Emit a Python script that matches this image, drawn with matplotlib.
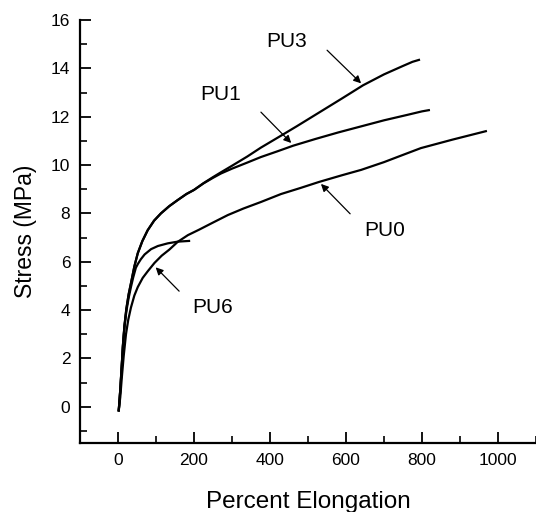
import matplotlib
matplotlib.use("Agg")
import matplotlib.pyplot as plt
from matplotlib.ticker import MultipleLocator

plt.rcParams['font.family'] = ['Liberation Sans', 'DejaVu Sans']

# Percent elongation (x) and stress in MPa (y)
pu3_x = [2, 6, 10, 13, 17, 22, 28, 34, 43, 52, 64, 78, 95, 113, 135, 157, 180, 200, 225, 250, 271,
         300, 340, 376, 420, 470, 529, 590, 645, 700, 750, 775, 792]
pu3_y = [-0.15, 0.7, 1.75, 2.55, 3.35, 4.05, 4.65, 5.1, 5.8, 6.35, 6.85, 7.3, 7.7, 8.0, 8.3, 8.55, 8.8,
         8.97, 9.25, 9.5, 9.7, 9.97, 10.35, 10.72, 11.13, 11.6, 12.17, 12.76, 13.3, 13.75, 14.1, 14.27, 14.35]

pu1_x = [2, 6, 10, 13, 17, 22, 28, 34, 43, 52, 64, 78, 95, 113, 135, 157, 180, 200, 225, 250, 271,
         300, 340, 376, 420, 461, 520, 580, 640, 700, 760, 800, 818]
pu1_y = [-0.15, 0.7, 1.75, 2.55, 3.35, 4.05, 4.65, 5.1, 5.8, 6.35, 6.85, 7.3, 7.7, 8.0, 8.3, 8.55, 8.8,
         8.97, 9.24, 9.47, 9.65, 9.85, 10.1, 10.33, 10.57, 10.8, 11.08, 11.35, 11.6, 11.85, 12.07, 12.22, 12.27]

pu6_x = [2, 6, 10, 13, 17, 22, 28, 34, 40, 47, 52, 60, 70, 87, 105, 131, 157, 187]
pu6_y = [-0.15, 0.7, 1.7, 2.5, 3.3, 3.95, 4.5, 4.95, 5.35, 5.75, 5.9, 6.1, 6.3, 6.52, 6.65, 6.76, 6.83, 6.86]

pu0_x = [2, 6, 10, 15, 21, 27, 34, 43, 52, 65, 78, 96, 115, 135, 157, 184, 214, 250, 289, 330, 376,
         429, 480, 529, 590, 640, 700, 750, 797, 880, 968]
pu0_y = [-0.15, 0.4, 1.2, 2.1, 3.0, 3.6, 4.1, 4.6, 4.95, 5.33, 5.6, 5.95, 6.25, 6.5, 6.82, 7.1, 7.33,
         7.62, 7.93, 8.2, 8.47, 8.8, 9.05, 9.3, 9.58, 9.8, 10.12, 10.42, 10.7, 11.05, 11.4]

labels = ['PU3', 'PU1', 'PU0', 'PU6']
label_xy = [(445, 15.1), (271, 12.9), (703, 7.3), (250, 4.1)]
arrow_from = [(545, 14.83), (371, 12.27), (616, 7.9), (166, 4.7)]
arrow_to = [(645, 13.3), (461, 10.83), (529, 9.3), (94, 5.85)]

fig = plt.figure(figsize=(5.36, 5.12), dpi=100)
ax = fig.add_axes([80/536, 1 - 443/512, (536 - 80)/536, (443 - 20)/512])

for x, y in [(pu3_x, pu3_y), (pu1_x, pu1_y), (pu6_x, pu6_y), (pu0_x, pu0_y)]:
    ax.plot(x, y, color='black', lw=1.6, solid_joinstyle='round')

for lab, (tx, ty), (ax0, ay0), (ax1, ay1) in zip(labels, label_xy, arrow_from, arrow_to):
    ax.text(tx, ty, lab, fontsize=15, ha='center', va='center')
    ax.annotate('', xy=(ax1, ay1), xytext=(ax0, ay0),
                arrowprops=dict(arrowstyle='-|>', color='black', lw=0.9, mutation_scale=11))

ax.set_xlim(-100, 1100)
ax.set_ylim(-1.5, 16)
ax.set_xticks([0, 200, 400, 600, 800, 1000])
ax.set_yticks([0, 2, 4, 6, 8, 10, 12, 14, 16])
ax.xaxis.set_minor_locator(MultipleLocator(100))
ax.yaxis.set_minor_locator(MultipleLocator(1))
ax.tick_params(which='major', direction='in', length=8, width=1.3, labelsize=12.5, pad=7)
ax.tick_params(which='minor', direction='in', length=5, width=1.2)
ax.spines['top'].set_visible(False)
ax.spines['right'].set_visible(False)
ax.spines['left'].set_linewidth(1.6)
ax.spines['bottom'].set_linewidth(1.6)

ax.set_xlabel('Percent Elongation', fontsize=17.5, labelpad=17)
ax.set_ylabel('Stress (MPa)', fontsize=16.5, labelpad=10)

fig.savefig('out.png', dpi=100)
